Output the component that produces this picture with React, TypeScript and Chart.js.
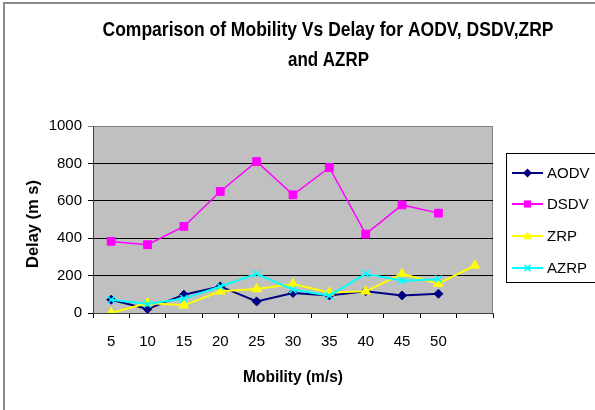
import React, { useEffect, useRef } from "react";
import { Chart, registerables } from "chart.js";

Chart.register(...registerables);

const categories = ["5", "10", "15", "20", "25", "30", "35", "40", "45", "50", ""];
const aodv = [71, 21, 98, 142, 62, 107, 94, 116, 94, 103];
const dsdv = [383, 365, 463, 650, 810, 632, 778, 422, 578, 534];
const zrp = [0, 53, 41, 116, 128, 155, 110, 116, 210, 157, 254];
const azrp = [71, 48, 77, 142, 210, 125, 93, 210, 173, 181];
const yTicks = [0, 200, 400, 600, 800, 1000];

const titleLines = ["Comparison of Mobility Vs Delay for AODV, DSDV,ZRP", "and AZRP"];
const yTitle = "Delay (m s)";
const xTitle = "Mobility (m/s)";

const seriesNames = ["AODV", "DSDV", "ZRP", "AZRP"];
const seriesColors = ["#000080", "#FF00FF", "#FFFF00", "#00FFFF"];
const seriesStyles = ["rectRot", "rect", "triangle", "crossRot"];

const FONT = '"Liberation Sans", Arial, sans-serif';
const NARROW = '"Liberation Sans Narrow", "Liberation Sans", Arial, sans-serif';

function fitText(ctx: CanvasRenderingContext2D, text: string, cx: number, y: number, font: string, width: number) {
  ctx.save();
  ctx.font = font;
  const w = ctx.measureText(text).width;
  ctx.translate(cx, y);
  ctx.scale(width / w, 1);
  ctx.textAlign = "center";
  ctx.fillText(text, 0, 0);
  ctx.restore();
}

function drawMarker(ctx: CanvasRenderingContext2D, style: string, x: number, y: number, r: number, color: string) {
  ctx.save();
  ctx.fillStyle = color;
  ctx.strokeStyle = color;
  ctx.lineWidth = 1.5;
  ctx.beginPath();
  if (style === "rectRot") {
    ctx.moveTo(x, y - r);
    ctx.lineTo(x + r, y);
    ctx.lineTo(x, y + r);
    ctx.lineTo(x - r, y);
    ctx.closePath();
    ctx.fill();
  } else if (style === "rect") {
    ctx.rect(x - r * 0.8, y - r * 0.8, r * 1.6, r * 1.6);
    ctx.fill();
  } else if (style === "triangle") {
    ctx.moveTo(x, y - r);
    ctx.lineTo(x + r, y + r * 0.7);
    ctx.lineTo(x - r, y + r * 0.7);
    ctx.closePath();
    ctx.fill();
  } else {
    ctx.moveTo(x - r * 0.7, y - r * 0.7);
    ctx.lineTo(x + r * 0.7, y + r * 0.7);
    ctx.moveTo(x + r * 0.7, y - r * 0.7);
    ctx.lineTo(x - r * 0.7, y + r * 0.7);
    ctx.stroke();
  }
  ctx.restore();
}

const decorPlugin = {
  id: "decor",
  beforeDraw(chart: any) {
    const { ctx, chartArea } = chart;
    ctx.save();
    ctx.fillStyle = "#ffffff";
    ctx.fillRect(0, 0, chart.width, chart.height);
    ctx.fillStyle = "#C0C0C0";
    ctx.fillRect(chartArea.left, chartArea.top, chartArea.right - chartArea.left, chartArea.bottom - chartArea.top);
    ctx.strokeStyle = "#808080";
    ctx.lineWidth = 1;
    ctx.strokeRect(chartArea.left + 0.5, chartArea.top + 0.5, chartArea.right - chartArea.left - 1, chartArea.bottom - chartArea.top);
    // outer frame
    ctx.strokeStyle = "#8a8a8a";
    ctx.lineWidth = 2;
    ctx.beginPath();
    ctx.moveTo(4, 410);
    ctx.lineTo(4, 3);
    ctx.lineTo(595, 3);
    ctx.stroke();
    ctx.restore();
  },
  afterDraw(chart: any) {
    const { ctx } = chart;
    ctx.save();
    ctx.fillStyle = "#000000";
    fitText(ctx, titleLines[0], 328, 36, `bold 20px ${NARROW}`, 451);
    fitText(ctx, titleLines[1], 328.5, 66, `bold 20px ${NARROW}`, 81);
    fitText(ctx, xTitle, 293, 382, `bold 16px ${NARROW}`, 100);
    ctx.save();
    ctx.translate(34, 224);
    ctx.rotate(-Math.PI / 2);
    ctx.textBaseline = "middle";
    fitText(ctx, yTitle, 0, 0, `bold 16px ${NARROW}`, 88);
    ctx.restore();

    // legend
    ctx.fillStyle = "#ffffff";
    ctx.fillRect(506, 153, 100, 129);
    ctx.strokeStyle = "#000000";
    ctx.lineWidth = 1;
    ctx.strokeRect(506.5, 153.5, 100, 129);
    const ys = [173, 204, 236, 268];
    seriesNames.forEach((name, i) => {
      const y = ys[i];
      ctx.strokeStyle = seriesColors[i];
      ctx.lineWidth = 2;
      ctx.beginPath();
      ctx.moveTo(512, y);
      ctx.lineTo(543, y);
      ctx.stroke();
      drawMarker(ctx, seriesStyles[i], 527.5, y, 4.5, seriesColors[i]);
      ctx.fillStyle = "#000000";
      ctx.font = `15px ${FONT}`;
      ctx.textAlign = "left";
      ctx.textBaseline = "middle";
      ctx.fillText(name, 547, y + 1);
    });
    ctx.restore();
  },
};

export default function App() {
  const ref = useRef<HTMLCanvasElement | null>(null);
  useEffect(() => {
    if (!ref.current) return;
    const datasets = [aodv, dsdv, zrp, azrp].map((data, i) => ({
      label: seriesNames[i],
      data,
      borderColor: seriesColors[i],
      backgroundColor: seriesColors[i],
      borderWidth: i === 1 ? 1.5 : 2,
      pointStyle: seriesStyles[i] as any,
      pointRadius: i === 0 ? 4.5 : i === 3 ? 5 : 5.5,
      pointBorderWidth: i === 3 ? 1.5 : 1,
      pointBorderColor: seriesColors[i],
      pointBackgroundColor: seriesColors[i],
      tension: 0,
      fill: false,
      order: 4 - i,
    }));
    const chart = new Chart(ref.current, {
      type: "line",
      data: { labels: categories, datasets },
      options: {
        animation: false,
        responsive: false,
        devicePixelRatio: 1,
        layout: { padding: { top: 126, right: 102, left: 0, bottom: 0 } },
        plugins: { legend: { display: false }, title: { display: false }, tooltip: { enabled: false } },
        scales: {
          x: {
            type: "category",
            offset: true,
            afterFit: (s: any) => { s.height = 97; },
            grid: { offset: true, drawOnChartArea: false, drawTicks: true, tickLength: 5, color: "#000000" },
            border: { color: "#404040", width: 1 },
            ticks: { color: "#000000", font: { family: FONT, size: 15 }, padding: 15, maxRotation: 0, autoSkip: false },
          },
          y: {
            min: 0,
            max: 1000,
            afterFit: (s: any) => { s.width = 93; },
            afterBuildTicks: (s: any) => { s.ticks = yTicks.map((v) => ({ value: v })); },
            grid: {
              color: (c: any) => (c.tick && c.tick.value === 1000 ? "#808080" : "#000000"),
              drawTicks: true,
              tickLength: 5,
              lineWidth: 1,
            },
            border: { color: "#404040", width: 1 },
            ticks: {
              color: "#000000",
              font: { family: FONT, size: 15 },
              padding: 6,
              callback: (v: any) => String(v),
            },
          },
        },
      },
      plugins: [decorPlugin],
    });
    return () => chart.destroy();
  }, []);
  return (
    <div style={{ position: "fixed", left: 0, top: 0, width: 595, height: 410 }}>
      <canvas ref={ref} width={595} height={410} style={{ width: 595, height: 410, display: "block" }} />
    </div>
  );
}
